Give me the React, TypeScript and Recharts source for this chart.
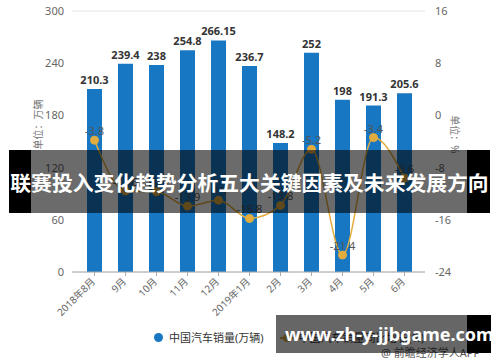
import { ComposedChart, Bar, Line, XAxis, YAxis, CartesianGrid, LabelList } from 'recharts';

const months = ['2018年8月', '9月', '10月', '11月', '12月', '2019年1月', '2月', '3月', '4月', '5月', '6月'];
const sales = [210.3, 239.4, 238, 254.8, 266.15, 236.7, 148.2, 252, 198, 191.3, 205.6];
const growth = [-3.8, -11.6, -11.7, -13.9, -13.0, -15.8, -13.8, -5.2, -21.4, -3.4, -9.6];
const leftTicks = [0, 60, 120, 180, 240, 300];
const rightTicks = [-24, -16, -8, 0, 8, 16];

const BLUE = '#1877c3';
const GOLD = '#e2ad3e';
const FONT = '"Noto Sans", "Noto Sans CJK SC", sans-serif';

const data = months.map((m, i) => ({ month: m, sales: sales[i], growth: growth[i] }));

function MonthTick({ x, y, payload }: { x?: number; y?: number; payload?: { value: string } }) {
  return (
    <text
      x={x}
      y={y}
      dy={4}
      dx={-2}
      transform={`rotate(-45, ${x}, ${y})`}
      textAnchor="end"
      fontSize={10}
      fill="#666"
      fontFamily={FONT}
    >
      {payload?.value}
    </text>
  );
}

export default function App() {
  return (
    <div
      style={{
        position: 'absolute',
        left: 0,
        top: 0,
        width: 500,
        height: 362,
        background: '#fff',
        fontFamily: FONT,
        overflow: 'hidden',
      }}
    >
      <ComposedChart width={500} height={362} data={data} margin={{ top: 11, right: 25, left: 22, bottom: 30 }}>
        <CartesianGrid vertical={false} stroke="#e3e3e3" />
        <XAxis
          dataKey="month"
          tick={<MonthTick />}
          interval={0}
          height={60}
          padding={{ left: 7, right: 5 }}
          axisLine={{ stroke: '#aaa' }}
          tickLine={{ stroke: '#aaa' }}
          tickSize={4}
        />
        <YAxis
          yAxisId="left"
          domain={[0, 300]}
          ticks={leftTicks}
          width={50}
          axisLine={false}
          tickLine={false}
          tickMargin={2}
          tick={{ fontSize: 11, fill: '#666', fontFamily: FONT }}
          label={{
            value: '单位：万辆',
            angle: -90,
            position: 'insideLeft',
            offset: 16,
            dy: 8,
            style: { fontSize: 10, fill: '#777', fontFamily: FONT },
          }}
        />
        <YAxis
          yAxisId="right"
          orientation="right"
          domain={[-24, 16]}
          ticks={rightTicks}
          width={50}
          axisLine={false}
          tickLine={false}
          tickMargin={4}
          tick={{ fontSize: 11, fill: '#666', fontFamily: FONT }}
          label={{
            value: '单位：%',
            angle: 90,
            position: 'insideRight',
            offset: 20,
            dy: 12,
            style: { fontSize: 10, fill: '#777', fontFamily: FONT },
          }}
        />
        <Bar yAxisId="left" dataKey="sales" fill={BLUE} barSize={15} isAnimationActive={false}>
          <LabelList
            dataKey="sales"
            position="top"
            offset={5}
            style={{ fontSize: 11, fontWeight: 700, fill: '#333', fontFamily: FONT }}
          />
        </Bar>
        <Line
          yAxisId="right"
          dataKey="growth"
          type="monotone"
          stroke={GOLD}
          strokeWidth={1.5}
          dot={{ r: 4, fill: GOLD, stroke: GOLD, strokeWidth: 1 }}
          isAnimationActive={false}
        >
          <LabelList
            dataKey="growth"
            position="top"
            offset={5}
            style={{ fontSize: 11, fill: '#555', fontFamily: FONT }}
          />
        </Line>
      </ComposedChart>

      {/* legend */}
      <div style={{ position: 'absolute', left: 154, top: 329, display: 'flex', alignItems: 'center', fontSize: 11, color: '#333' }}>
        <span style={{ width: 9, height: 9, borderRadius: '50%', background: BLUE, display: 'inline-block', marginRight: 6 }} />
        <span>中国汽车销量(万辆)</span>
        <span style={{ position: 'relative', width: 14, height: 9, display: 'inline-block', marginLeft: 16, marginRight: 5 }}>
          <span style={{ position: 'absolute', left: 0, top: 4, width: 14, height: 2, background: GOLD }} />
          <span style={{ position: 'absolute', left: 3, top: 1, width: 8, height: 8, borderRadius: '50%', background: GOLD }} />
        </span>
        <span>中国汽车销量同比增长(%)</span>
      </div>
      <div style={{ position: 'absolute', left: 381, top: 344, fontSize: 11, color: '#555' }}>@ 前瞻经济学人APP</div>

      {/* title banner overlay */}
      <div style={{ position: 'absolute', left: 9, top: 150, width: 481, height: 63, background: 'rgba(0,0,0,0.58)' }}>
        <div style={{ position: 'absolute', left: 0, top: 0, width: 22, height: 63, background: '#000' }} />
        <div style={{ position: 'absolute', right: 0, top: 0, width: 23, height: 63, background: '#000' }} />
        <div
          style={{
            position: 'absolute',
            left: 0,
            top: 0,
            width: 481,
            height: 63,
            display: 'flex',
            alignItems: 'center',
            justifyContent: 'center',
            color: '#fff',
            fontWeight: 700,
            fontSize: 20.8,
            whiteSpace: 'nowrap',
            fontFamily: '"Noto Sans CJK SC", sans-serif',
          }}
        >
          联赛投入变化趋势分析五大关键因素及未来发展方向
        </div>
      </div>

      {/* site watermark overlay */}
      <div style={{ position: 'absolute', left: 276, top: 315, width: 215, height: 38, background: 'rgba(0,0,0,0.6)' }}>
        <div style={{ position: 'absolute', right: 0, top: 0, width: 24, height: 38, background: '#000' }} />
        <div
          style={{
            position: 'absolute',
            left: 9,
            top: 0,
            height: 38,
            display: 'flex',
            alignItems: 'center',
            color: '#fff',
            fontWeight: 700,
            fontSize: 18,
            whiteSpace: 'nowrap',
            fontFamily: '"Noto Sans", sans-serif',
          }}
        >
          www.zh-y-jjbgame.com
        </div>
      </div>
    </div>
  );
}
